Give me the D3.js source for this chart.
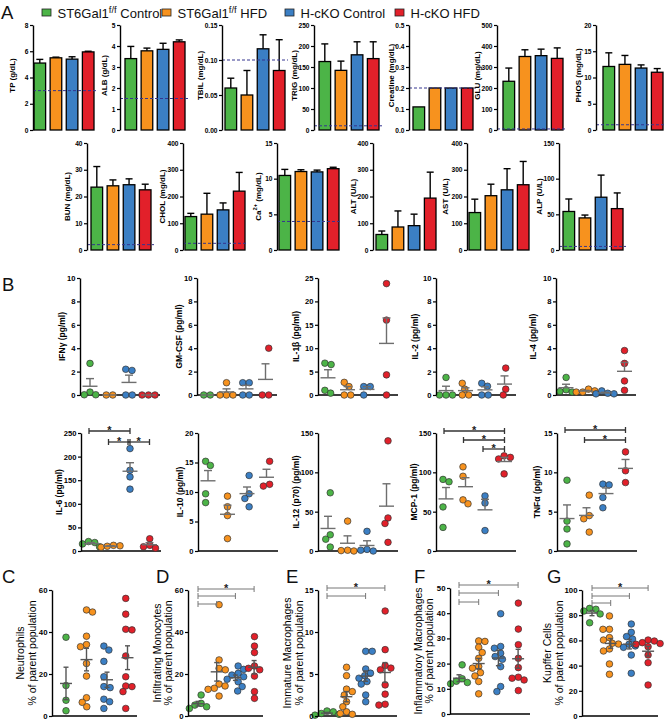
<!DOCTYPE html>
<html><head><meta charset="utf-8">
<script src="https://cdn.jsdelivr.net/npm/d3@7"></script>
<style>
body{margin:0;background:#fff;}
svg{display:block;font-family:"Liberation Sans",Arial,sans-serif;}
</style></head><body>
<svg id="c" width="666" height="721"></svg>
<script>
// ---------- DATA ----------
const groups = ["ST6Gal1^{f/f} Control","ST6Gal1^{f/f} HFD","H-cKO Control","H-cKO HFD"];
const groupColors = ["#4cb447","#f7921e","#3b7fc4","#e2202a"];

// Panel A : serum chemistry (bar = mean, whisker top)
const chemLabels = ["TP (g/dL)","ALB (g/dL)","TBIL (mg/dL)","TRIG (mg/dL)","Creatine (mg/dL)","GLU (mg/dL)","PHOS (mg/dL)",
                    "BUN (mg/dL)","CHOL (mg/dL)","Ca^{2+} (mg/dL)","ALT (U/L)","AST (U/L)","ALP (U/L)"];
const chemMeans = [
  [5.1,5.5,5.4,5.95],[3.4,3.77,3.84,4.2],[0.060,0.050,0.116,0.085],[163,142,179,170],
  [0.11,0.2,0.2,0.2],[232,350,354,341],[12.1,12.5,11.8,11.0],
  [23.5,24,24.4,22.5],[125,134,150,220],[10.45,11.0,10.95,11.4],[58,86,91,194],[140,203,225,244],[54,45,74,58]
];
const chemErrTop = [
  [5.38,5.55,5.58,6.0],[3.98,3.9,4.13,4.29],[0.074,0.085,0.136,0.129],[205,164,210,210],
  [null,null,null,null],[295,382,385,391],[14.7,14.2,12.4,11.7],
  [31.2,26.2,26.6,24.6],[137,212,176,290],[11.3,11.25,11.2,11.6],[71,146,134,291],[190,246,304,331],[71.5,49,105,80]
];
const chemRef = [3,1.5,0.1,10,0.2,5,1,2,25,4,null,null,5];
const chemTicks = [
  [0,2,4,6,8],[0,1,2,3,4,5],[0,0.05,0.10,0.15],[0,50,100,150,200,250],[0,0.1,0.2,0.3,0.4,0.5],
  [0,100,200,300,400,500],[0,5,10,15,20],[0,10,20,30,40],[0,100,200,300,400],[0,5,10,15],
  [0,100,200,300,400],[0,100,200,300,400],[0,50,100,150]
];
const chemDecimals = [0,0,2,0,1,0,0,0,0,0,0,0,0];

// Panel B : cytokines, individual animals per group
const IFNg  = [[2.7,0.25,0.02,0.02],[0,0],[2.2,2.1,0,0],[0,0,0]];
const GMCSF = [[0,0],[1.05,0,0,0],[1.05,1.05,0,0],[4.0,0,0]];
const IL1b  = [[6.8,6.5,1.0,0.4],[2.7,1.8,0,0],[1.8,1.8,0],[23.8,16.0,4.3,0]];
const IL2   = [[1.5,0,0,0],[1.0,0.5,0,0],[1.0,0.75,0,0],[2.3,0.5,0]];
const IL4   = [[1.5,0.45,0.3,0.25],[0.5,0.35,0.25,0.25],[0.35,0.15,0.1,0.1],[3.8,2.7,1.2,0.4]];
const IL6   = [[20,18,15,9],[12,11,10,8],[217,171,157,131],[26,12,9,6]];
const IL10  = [[15.2,14.5,9.7,8.2],[9.3,7.5,6.0,2.1],[12.8,9.7,8.9,7.5],[15.2,11.3,11.0]];
const IL12  = [[74,20.6,15,5],[38,1,0.5,0],[25,2,1,0],[140,42,35,11]];
const MCP1  = [[91,88,56,30],[107,95,65,60],[70,61,26],[121,119,117,98]];
const TNFa  = [[9.0,3.8,2.8,0.9],[7.1,4.5,4.1,2.4],[8.5,8.4,6.8,5.5],[12.6,10.2,8.7]];
const cytoLabels = ["IFNγ (pg/ml)","GM-CSF (pg/ml)","IL-1β (pg/ml)","IL-2 (pg/ml)","IL-4 (pg/ml)",
                    "IL-6 (pg/ml)","IL-10 (pg/ml)","IL-12 (p70) (pg/ml)","MCP-1 (pg/ml)","TNFα (pg/ml)"];
const cytoTicks = [[0,2,4,6,8,10],[0,2,4,6,8,10],[0,5,10,15,20,25],[0,2,4,6,8,10],[0,2,4,6,8,10],
                   [0,50,100,150,200,250],[0,5,10,15,20],[0,50,100,150],[0,50,100,150],[0,5,10,15]];
const cytoSig = [[],[],[],[],[],[[0,2,true],[1,2,true],[2,3,true]],[],[],[[0,3,true],[1,3,true],[2,3,true]],[[0,3,true],[1,3,true]]];

// Panels C-G : flow cytometry, % of parent population
const Neut = [[37.5,14.5,7.5,2.5],[50.5,49.5,38,34,33,25,19,8.7,6.5,4.4],[33.3,31.4,26,18.7,14,13.5,8,6.8,3.6],[56,48.5,41.3,41,28.6,18.7,14.3,14,11.6,3.6]];
const Mono = [[10,6,5.2,4.4,3.6],[53,26.7,22.7,22,15.2,14.3,13.2,12.7,9.5],[23.8,22.2,20.3,19.5,18.7,17.5,16.3,14,11.9],[37.8,33.3,30.2,23.8,22.7,22,19,11.6,8.4]];
const ImmMac = [[0.6,0.5,0.3,0.2,0.1],[5.8,4.8,3.2,2.9,2.5,1.7,1.1,0.5,0.3,0.2],[7.7,7.7,5.6,5.1,4.8,4.5,4.1,3.8,2.5,1.7],[12.5,7.9,6,5.7,5.5,3.7,2.6,1.4,1.3]];
const InfMac = [[19.5,14,13,12.5,12],[29,28.8,26.5,24.4,22.1,18.8,18.2,16.4,15.1,12.9,8],[39.8,26.8,26.1,24.1,22.8,21.7,18.8,10.9,8.9],[44,33.7,27.5,22.1,18.4,14.6,14.2,13.5,9.3]];
const Kupffer = [[85.4,84.7,83.3,81,74],[79.4,68.8,68.8,62.2,60.3,57.7,57.1,53.2,51.6,41.3,33.1],[73,66.4,63,61.1,56.9,55.6,54.5,48.4,33.9],[60.3,59.5,58.2,57.5,56.9,55,48.4,42.3,24.6]];
const flowLabels = ["Neutrophils","Infiltrating Monocytes","Immature Macrophages","Inflammatory Macrophages","Kupffer Cells"];
const flowLabel2 = "% of parent population";
const flowTicks = [[0,20,40,60],[0,20,40,60],[0,5,10,15],[0,10,20,30,40,50],[0,20,40,60,80,100]];
const flowSig = [[],[[0,3,true],[0,2,false],[0,1,false]],[[0,3,true],[0,2,false]],[[0,3,true],[0,2,false],[0,1,false]],[[0,3,true],[0,2,false],[0,1,false]]];
const panelLetters = ["A","B","C","D","E","F","G"];

// ---------- DRAWING ----------
const svg = d3.select("#c");
const FONT = "Liberation Sans, Arial, sans-serif";

function rich(sel, str, supSize, rise){
  const parts = str.split(/(\^\{[^}]*\})/).filter(s=>s.length);
  let raised=false;
  parts.forEach(p=>{
    if(p.startsWith("^{")){ sel.append("tspan").attr("dy",-rise).attr("font-size",supSize).text(p.slice(2,-1)); raised=true; }
    else { const t=sel.append("tspan").text(p); if(raised){ t.attr("dy",rise); raised=false; } }
  });
}
function styleAxis(g, fs){
  g.attr("font-family",FONT).attr("font-size",fs).attr("font-weight","bold");
  g.select(".domain").attr("stroke","#000").attr("stroke-width",1.4);
  g.selectAll(".tick line").attr("stroke","#000").attr("stroke-width",1.2);
  g.selectAll(".tick text").attr("fill","#000");
}
function tickLeft(g, ax){
  let mn = 0;
  g.selectAll(".tick text").each(function(){ const b=this.getBBox(); mn=Math.min(mn,b.x); });
  return ax + mn;
}
function yLabel(x, y, str, fs, weight){
  const t = svg.append("text").attr("transform",`translate(${x},${y}) rotate(-90)`)
    .attr("text-anchor","middle").attr("dominant-baseline","central")
    .attr("font-size",fs).attr("font-weight",weight).attr("fill","#000").attr("font-family",FONT);
  rich(t, str, fs*0.72, fs*0.38);
}

// Legend
const legX = [42,162,285,395];
groups.forEach((gname,i)=>{
  svg.append("rect").attr("x",legX[i]).attr("y",9).attr("width",9).attr("height",7)
     .attr("fill",groupColors[i]).attr("stroke","#222").attr("stroke-width",0.8);
  const t = svg.append("text").attr("x",legX[i]+15.5).attr("y",17.5).attr("font-size",13).attr("fill","#111").attr("font-family",FONT);
  rich(t, gname, 9.5, 5);
});

// Panel letters
const letterPos = [[1,19],[2,291],[2,583],[156,583],[286,583],[414,583],[547,583]];
panelLetters.forEach((L,i)=>svg.append("text").attr("x",letterPos[i][0]).attr("y",letterPos[i][1])
  .attr("font-size",18.5).attr("font-family",FONT).attr("fill","#111").text(L));

// Panel A
const rowAx = [[33,120,222,314,409,497,596],[87,183,277,373,467,559]];
const rowBx = [[34,125,225,319,413,503,603],[91,185,279,376,469,563]];
const rowY  = [[25,130],[143,250]];
const rowLab= [[12,104,206,297,392,480,578],[67,162,258,353,445,539]];
chemLabels.forEach((lab,idx)=>{
  const r = idx<7?0:1, c = idx<7?idx:idx-7;
  const ax=rowAx[r][c], bx=rowBx[r][c], [yT,yB]=rowY[r];
  const ticks = chemTicks[idx];
  const y = d3.scaleLinear().domain([0,ticks[ticks.length-1]]).range([yB,yT]);
  const x = d3.scaleBand().domain(d3.range(4)).range([bx,bx+60]).paddingInner(0.28).paddingOuter(0);
  const g = svg.append("g");
  chemMeans[idx].forEach((m,i)=>{
    const e = chemErrTop[idx][i]; if(e==null) return;
    const cx = x(i)+x.bandwidth()/2;
    g.append("line").attr("x1",cx).attr("x2",cx).attr("y1",y(m)).attr("y2",y(e)).attr("stroke","#000").attr("stroke-width",1.4);
    g.append("line").attr("x1",cx-3.5).attr("x2",cx+3.5).attr("y1",y(e)).attr("y2",y(e)).attr("stroke","#000").attr("stroke-width",1.4);
  });
  g.selectAll("rect.bar").data(chemMeans[idx]).enter().append("rect")
    .attr("x",(d,i)=>x(i)).attr("width",x.bandwidth()).attr("y",d=>y(d)).attr("height",d=>yB-y(d))
    .attr("fill",(d,i)=>groupColors[i]).attr("stroke","#000").attr("stroke-width",1.3);
  if(chemRef[idx]!=null){
    g.append("line").attr("x1",ax).attr("x2",bx+63).attr("y1",y(chemRef[idx])).attr("y2",y(chemRef[idx]))
      .attr("stroke","#35358f").attr("stroke-width",1).attr("stroke-dasharray","3,2");
  }
  const axis = d3.axisLeft(y).tickValues(ticks).tickSize(3).tickSizeOuter(0).tickPadding(1.5)
    .tickFormat(d3.format(`.${chemDecimals[idx]}f`));
  const ag = g.append("g").attr("transform",`translate(${ax},0)`).call(axis);
  styleAxis(ag, 6.6);
  const lx = Math.min(rowLab[r][c], tickLeft(ag,ax) - 4.6);
  yLabel(lx, (yT+yB)/2 - (r===0?2:0), lab, 8, "bold");
});

// Beeswarm helper
function swarm(vals, yScale, r){
  const items = vals.map(v=>({v, y:yScale(v)})).sort((a,b)=>a.y-b.y);
  const placed=[]; const dmin = 2*r*0.95;
  items.forEach((it,k)=>{
    let best=null;
    for(let s=0;s<80 && best===null;s+=0.25){
      for(const sg of (k%2?[1,-1]:[-1,1])){
        const dx=s*sg;
        if(placed.every(p=>(p.x-dx)**2+(p.y-it.y)**2>=dmin*dmin)){best=dx;break;}
      }
    }
    it.x=best; placed.push(it);
  });
  const mn=d3.min(placed,p=>p.x), mx=d3.max(placed,p=>p.x);
  placed.forEach(p=>p.x-=(mn+mx)/2);
  return placed;
}

function dotChart(o){
  const ticks=o.ticks;
  const y = d3.scaleLinear().domain([0,ticks[ticks.length-1]]).range([o.yB,o.yT]);
  const x = d3.scalePoint().domain(d3.range(4)).range([o.ax+o.off, o.ax+o.off+3*o.step]);
  const g = svg.append("g");
  g.append("line").attr("x1",o.ax).attr("x2",o.ax+o.w).attr("y1",o.yB).attr("y2",o.yB).attr("stroke","#000").attr("stroke-width",1.4);
  o.data.forEach((vals,i)=>{
    const pts = swarm(vals,y,o.r);
    g.selectAll(null).data(pts).enter().append("circle")
      .attr("cx",p=>x(i)+p.x).attr("cy",p=>p.y).attr("r",o.r)
      .attr("fill",groupColors[i]).attr("stroke","#333").attr("stroke-width",0.7);
  });
  o.data.forEach((vals,i)=>{
    const m=d3.mean(vals), sd=vals.length>1?d3.deviation(vals):0, sem=sd/Math.sqrt(vals.length);
    const cx=x(i);
    const line=(x1,x2,y1,y2)=>g.append("line").attr("x1",x1).attr("x2",x2).attr("y1",y1).attr("y2",y2)
      .attr("stroke",o.gray).attr("stroke-width",1.4);
    line(cx-o.mh,cx+o.mh,y(m),y(m));
    if(sem>0){
      const lo = o.both? y(Math.max(0,m-sem)) : y(m);
      line(cx,cx,lo,y(m+sem));
      line(cx-o.ch,cx+o.ch,y(m+sem),y(m+sem));
      if(o.both) line(cx-o.ch,cx+o.ch,lo,lo);
    }
  });
  o.sig.forEach((s,k)=>{
    const by=o.yT+o.sigY[k], x1=x(s[0])-o.bl, x2=x(s[1]);
    const st=o.bstroke;
    g.append("line").attr("x1",x1).attr("x2",x2).attr("y1",by).attr("y2",by).attr("stroke",st).attr("stroke-width",o.bw);
    [x1,x2].forEach(xx=>g.append("line").attr("x1",xx).attr("x2",xx).attr("y1",by-3).attr("y2",by+3).attr("stroke",st).attr("stroke-width",o.bw));
    if(s[2]) g.append("text").attr("x",(x1+x2)/2).attr("y",by+3).attr("text-anchor","middle")
      .attr("font-size",11).attr("font-weight","bold").attr("font-family",FONT).attr("fill","#222").text("*");
  });
  const axis = d3.axisLeft(y).tickValues(ticks).tickSize(3).tickSizeOuter(0).tickPadding(1.5);
  const ag = g.append("g").attr("transform",`translate(${o.ax},0)`).call(axis);
  styleAxis(ag, o.fs);
  return tickLeft(ag, o.ax);
}

// Panel B
const cytoData=[IFNg,GMCSF,IL1b,IL2,IL4,IL6,IL10,IL12,MCP1,TNFa];
const bAx=[[80,197,318,436,556],[81,198,318,436,557]];
const bY=[[278,395],[433,551]];
const bLab=[[62,180,296,415,533],[60,180,297,417,537]];
const bSigY=[[],[],[],[],[],[-2,9,9],[],[],[-2,7,16],[-3,7]];
cytoData.forEach((d,idx)=>{
  const r=idx<5?0:1, c=idx%5;
  const tl = dotChart({ax:bAx[r][c], yT:bY[r][0], yB:bY[r][1], w:80, off:10, step:19.5, ticks:cytoTicks[idx], data:d,
    r:3.3, gray:"#6e6e6e", mh:7.5, ch:4, both:false, sig:cytoSig[idx], sigY:bSigY[idx], bl:2, bstroke:"#333", bw:1.3, fs:7.6});
  yLabel(Math.min(bLab[r][c], tl-5), (bY[r][0]+bY[r][1])/2, cytoLabels[idx], 8.5, "bold");
});

// Panels C-G
const flowData=[Neut,Mono,ImmMac,InfMac,Kupffer];
const cgAx=[52,188,318,450,582];
const cgY=[[590,716],[590,716],[590,716],[588,714],[590,716]];
const cgW=[85,75,79,80,76];
const cgOff=[14,10,9,9,10];
const cgStep=[20.5,18.7,19.3,19.7,18.7];
const cgLab=[[20,32],[157,168],[287,299],[418,429],[550,561]];
const cgSigY=[[],[-1,6,14],[-2,6],[-3,5,14],[-2,6,13]];
flowData.forEach((d,idx)=>{
  const tl = dotChart({ax:cgAx[idx], yT:cgY[idx][0], yB:cgY[idx][1], w:cgW[idx], off:cgOff[idx], step:cgStep[idx],
    ticks:flowTicks[idx], data:d, r:3.3, gray:"#555", mh:6, ch:2.5, both:true, sig:flowSig[idx], sigY:cgSigY[idx],
    bl:0, bstroke:"#777", bw:1, fs:7.8});
  const ym=(cgY[idx][0]+cgY[idx][1])/2;
  const x2 = Math.min(cgLab[idx][1], tl-5.5);
  const x1 = Math.min(cgLab[idx][0], x2-11.5);
  yLabel(x1, ym, flowLabels[idx], 10.5, "normal");
  yLabel(x2, ym, flowLabel2, 10.5, "normal");
});
</script></body></html>
